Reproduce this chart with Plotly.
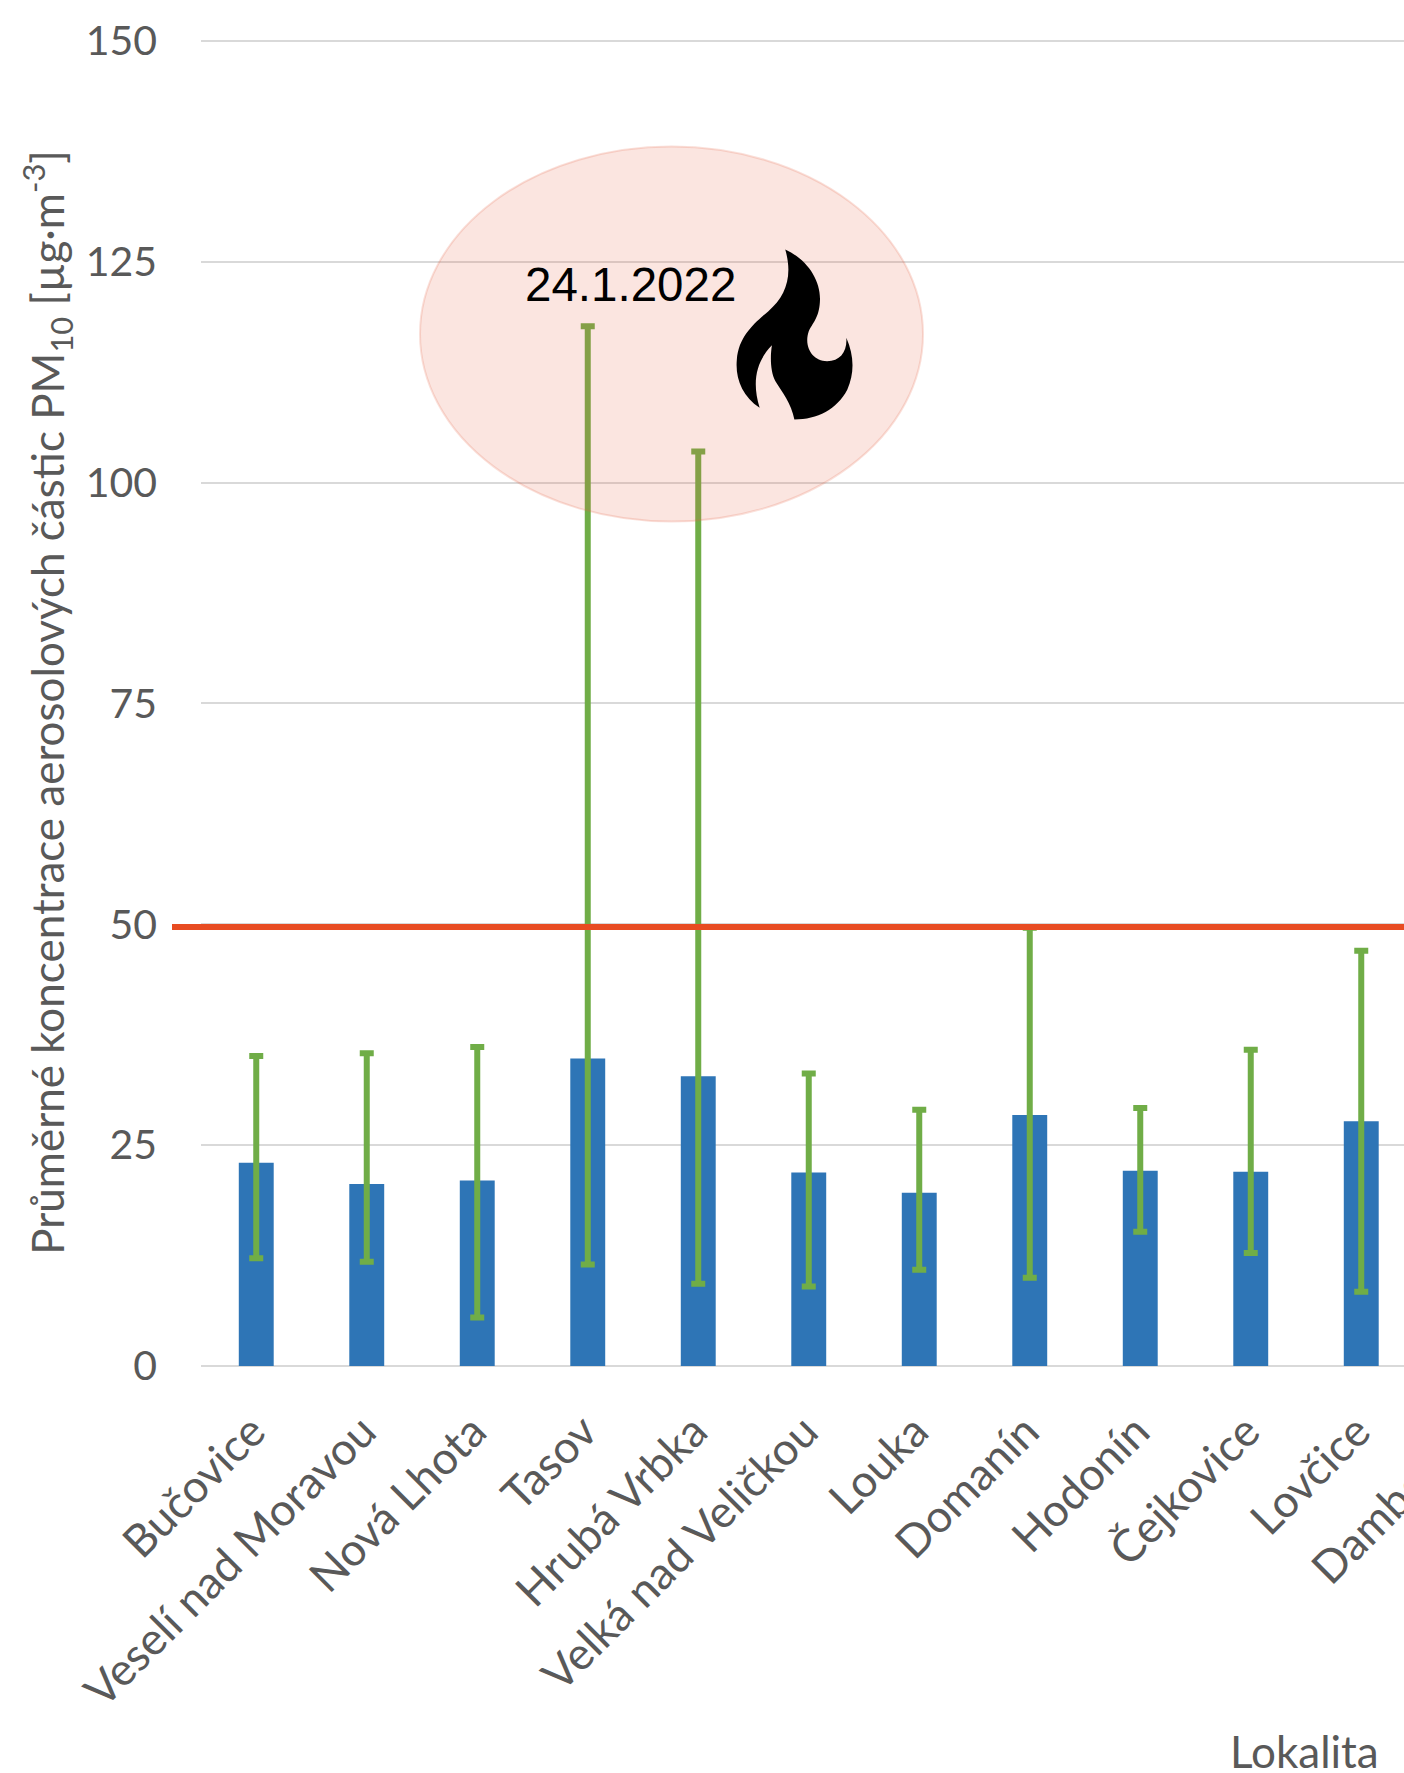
import plotly.graph_objects as go

categories = ["Bučovice", "Veselí nad Moravou", "Nová Lhota", "Tasov", "Hrubá Vrbka",
              "Velká nad Veličkou", "Louka", "Domanín", "Hodonín", "Čejkovice", "Lovčice", "Dambořice"]
mean_pm10 = [23.0, 20.6, 21.0, 34.8, 32.8, 21.9, 19.6, 28.4, 22.1, 22.0, 27.7, None]
max_pm10 = [35.1, 35.4, 36.1, 117.7, 103.5, 33.1, 29.0, 49.6, 29.2, 35.8, 47.0, None]
min_pm10 = [12.2, 11.8, 5.5, 11.5, 9.3, 9.0, 10.9, 10.0, 15.2, 12.8, 8.4, None]
y_ticks = [0, 25, 50, 75, 100, 125, 150]
limit_value = 49.7

GREY = "#595959"
FONT = "Lato"
positions = list(range(len(categories)))
err_plus = [None if m is None else round(h - m, 2) for m, h in zip(mean_pm10, max_pm10)]
err_minus = [None if m is None else round(m - l, 2) for m, l in zip(mean_pm10, min_pm10)]

# pixel helpers for the overlaid drawing (ellipse + flame icon)
L, PX_X, PX_Y, Y0 = 201, 110.5, 8.835, 1366.5
Y_TOP = 150.2
T = Y0 - Y_TOP * PX_Y
def dx(px): return (px - L) / PX_X - 0.5
def dy(px): return (Y0 - px) / PX_Y
def zp(x, y): return f"{dx(x / 2.85 + 400):.4f},{dy(y / 3 + 130):.3f}"

flame = [
    ("M", [(1098, 360)]),
    ("C", [(1160, 390), (1198, 450), (1197, 510)]),
    ("C", [(1196, 560), (1180, 575), (1165, 605)]),
    ("C", [(1150, 650), (1175, 695), (1217, 695)]),
    ("C", [(1255, 695), (1275, 665), (1272, 625)]),
    ("C", [(1295, 680), (1295, 730), (1275, 780)]),
    ("C", [(1245, 840), (1190, 870), (1124, 870)]),
    ("C", [(1115, 820), (1090, 790), (1070, 755)]),
    ("C", [(1055, 725), (1055, 680), (1060, 647)]),
    ("C", [(1020, 690), (1000, 750), (1025, 835)]),
    ("C", [(975, 800), (955, 745), (960, 690)]),
    ("C", [(965, 620), (1010, 580), (1050, 545)]),
    ("C", [(1100, 500), (1120, 440), (1098, 360)]),
]
flame_path = " ".join(c + " ".join(zp(*p) for p in pts) for c, pts in flame) + " Z"

fig = go.Figure()
fig.add_trace(go.Bar(
    x=positions, y=mean_pm10, width=0.316, marker=dict(color="#2E75B6", line=dict(width=0)),
    error_y=dict(type="data", symmetric=False, array=err_plus, arrayminus=err_minus,
                 color="#70AD47", thickness=6, width=7),
    showlegend=False,
))

fig.update_layout(
    width=1540, height=1773,
    margin=dict(l=L, r=13, t=T, b=1773 - Y0, autoexpand=False),
    paper_bgcolor="white", plot_bgcolor="white",
    font=dict(family=FONT, color=GREY, size=41),
    xaxis=dict(range=[-0.5, 11.5], tickmode="array", tickvals=positions, ticktext=categories,
               tickangle=-45, showgrid=False, zeroline=False, showline=False, ticks="",
               ticklabelstandoff=29, ticklabelshift=-4, tickfont=dict(family=FONT, size=45, color=GREY)),
    yaxis=dict(range=[0, Y_TOP], tickmode="array", tickvals=y_ticks, showgrid=True,
               gridcolor="#D9D9D9", gridwidth=2.4, zeroline=True, zerolinecolor="#D9D9D9", zerolinewidth=2.4,
               showline=False, ticks="", ticklabelstandoff=43,
               tickfont=dict(family=FONT, size=41, color=GREY),
               title=dict(text="Průměrné koncentrace aerosolových částic PM<sub>10</sub> [µg·m<sup>-3</sup>]",
                          font=dict(family=FONT, size=44, color=GREY), standoff=7)),
    shapes=[
        dict(type="line", xref="paper", yref="y", x0=-29 / 1326, x1=1, y0=limit_value, y1=limit_value,
             line=dict(color="#E84C22", width=6), layer="above"),
        dict(type="circle", xref="x", yref="y", x0=dx(420), x1=dx(923), y0=dy(522), y1=dy(147),
             fillcolor="rgba(232,100,70,0.17)", line=dict(color="rgba(232,100,70,0.2)", width=2), layer="above"),
        dict(type="path", xref="x", yref="y", path=flame_path, fillcolor="black", line=dict(width=0), layer="above"),
    ],
    annotations=[
        dict(text="24.1.2022", xref="x", yref="y", x=dx(630), y=dy(284.5), showarrow=False,
             font=dict(family="Liberation Sans", size=47.5, color="black")),
        dict(text="Lokalita", xref="paper", yref="paper", x=(1304.5 - L) / 1326, y=(Y0 - 1752) / (Y_TOP * PX_Y),
             xanchor="center", yanchor="middle", showarrow=False, font=dict(family=FONT, size=44, color=GREY)),
    ],
)

fig.write_html("out.html", config={"displayModeBar": False},
               post_script="document.body.style.margin='0';document.documentElement.style.overflow='hidden';")
